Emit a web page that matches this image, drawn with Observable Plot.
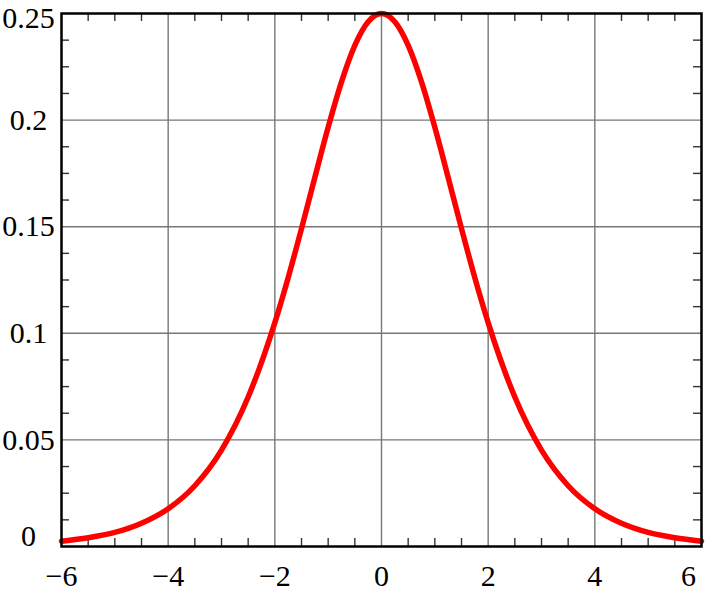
<!DOCTYPE html>
<html>
<head>
<meta charset="utf-8">
<script src="https://cdn.jsdelivr.net/npm/d3@7"></script>
<script src="https://cdn.jsdelivr.net/npm/@observablehq/plot@0.6"></script>
<style>
  html, body { margin: 0; padding: 0; background: #fff; }
  svg { display: block; }
</style>
</head>
<body>
<div id="chart"></div>
<script>
// Curve values
const xs = [-6, -5.5, -5, -4.5, -4, -3.5, -3, -2.5, -2, -1.75, -1.5, -1.25, -1, -0.75, -0.5, -0.25, 0, 0.25, 0.5, 0.75, 1, 1.25, 1.5, 1.75, 2, 2.5, 3, 3.5, 4, 4.5, 5, 5.5, 6];
const ys = [0.0025, 0.0041, 0.0066, 0.0109, 0.0177, 0.0285, 0.0452, 0.0701, 0.105, 0.1261, 0.1491, 0.1731, 0.1966, 0.2179, 0.235, 0.2461, 0.25, 0.2461, 0.235, 0.2179, 0.1966, 0.1731, 0.1491, 0.1261, 0.105, 0.0701, 0.0452, 0.0285, 0.0177, 0.0109, 0.0066, 0.0041, 0.0025];

// Tick labels
const xTicks = [-6, -4, -2, 0, 2, 4, 6];
const xGrid = [-4, -2, 0, 2, 4];
const xMinor = [-5.5, -5, -4.5, -3.5, -3, -2.5, -1.5, -1, -0.5, 0.5, 1, 1.5, 2.5, 3, 3.5, 4.5, 5, 5.5];
const yTicks = [0, 0.05, 0.1, 0.15, 0.2, 0.25];
const yGrid = [0.05, 0.1, 0.15, 0.2];
const yMinor = [0.0125, 0.025, 0.0375, 0.0625, 0.075, 0.0875, 0.1125, 0.125, 0.1375, 0.1625, 0.175, 0.1875, 0.2125, 0.225, 0.2375];

const data = xs.map((x, i) => ({x, y: ys[i]}));

const W = 706, H = 599;
const mL = 61, mR = 5, mT = 13, mB = 53;
const xUnitPx = (W - mL - mR) / 12;
const yUnitPx = (H - mT - mB) / 0.25;
const tickLen = 8;
const tx = tickLen / xUnitPx, ty = tickLen / yUnitPx;

const FONT = "'Liberation Serif', 'Times New Roman', serif";
const FS = 30;
const fmtY = d => d === 0 ? "0" : String(d);
const fmtX = d => d < 0 ? "\u2212" + Math.abs(d) : String(d);
const ax = {tickSize: 0, fontSize: FS, fontFamily: FONT, label: null};
const ay = {...ax, tickPadding: 33, textAnchor: "middle"};

const chart = Plot.plot({
  width: W,
  height: H,
  marginLeft: mL,
  marginRight: mR,
  marginTop: mT,
  marginBottom: mB,
  style: `font-family: ${FONT}; font-size: ${FS}px; background: #fff; color: #000; overflow: visible;`,
  x: {domain: [-6, 6], label: null},
  y: {domain: [0, 0.25], label: null},
  marks: [
    Plot.ruleX(xGrid, {stroke: "#777", strokeWidth: 1.4}),
    Plot.ruleY(yGrid, {stroke: "#777", strokeWidth: 1.4}),
    Plot.ruleX(xMinor, {y1: 0, y2: ty, stroke: "#333", strokeWidth: 1.4}),
    Plot.ruleX(xMinor, {y1: 0.25, y2: 0.25 - ty, stroke: "#333", strokeWidth: 1.4}),
    Plot.ruleY(yMinor, {x1: -6, x2: -6 + tx, stroke: "#333", strokeWidth: 1.4}),
    Plot.ruleY(yMinor, {x1: 6, x2: 6 - tx, stroke: "#333", strokeWidth: 1.4}),
    Plot.line(data, {x: "x", y: "y", stroke: "#ff0000", strokeWidth: 5.5, curve: "monotone-x"}),
    Plot.frame({stroke: "#000", strokeWidth: 2.5}),
    Plot.axisX(xTicks.filter(d => d !== 6), {...ax, tickPadding: 18, tickFormat: fmtX}),
    Plot.axisX([6], {...ax, tickPadding: 18, tickFormat: fmtX, dx: -13}),
    Plot.axisY(yTicks.filter(d => d !== 0 && d !== 0.25), {...ay, tickFormat: fmtY}),
    Plot.axisY([0], {...ay, tickFormat: fmtY, dy: -10}),
    Plot.axisY([0.25], {...ay, tickFormat: fmtY, dy: 5})
  ]
});
document.getElementById("chart").appendChild(chart);
</script>
</body>
</html>
